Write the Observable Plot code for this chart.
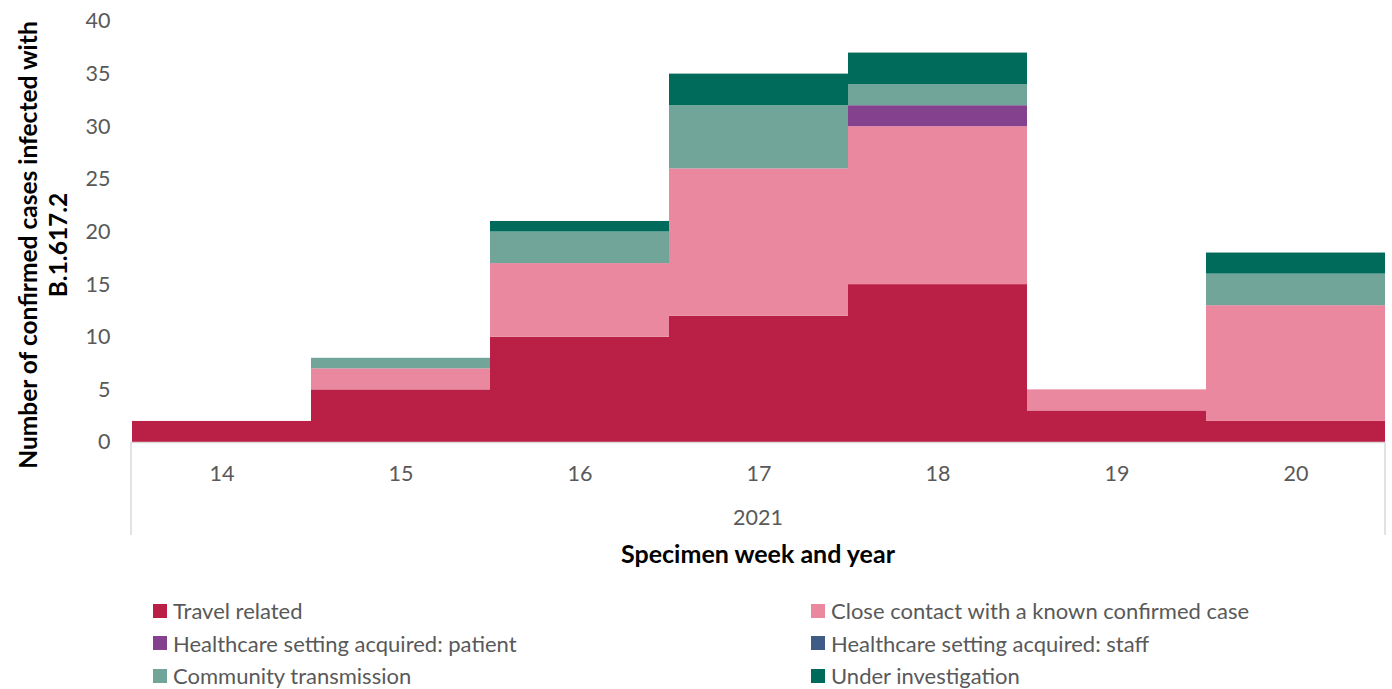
<!DOCTYPE html>
<html>
<head>
<meta charset="utf-8">
<script src="https://cdn.jsdelivr.net/npm/d3@7"></script>
<script src="https://cdn.jsdelivr.net/npm/@observablehq/plot@0.6"></script>
<style>
  html, body { margin: 0; padding: 0; background: #fff; }
  body { width: 1392px; height: 689px; overflow: hidden; font-family: Lato, "Open Sans", sans-serif; }
  #legend { position: relative; height: 109px; }
  .item { position: absolute; display: flex; align-items: center; font-size: 22px; color: #595959; white-space: nowrap; }
  .sw { width: 14px; height: 14px; margin-right: 6px; }
</style>
</head>
<body>
<div id="chart"></div>
<div id="legend"></div>
<script>
const weeks = ["14", "15", "16", "17", "18", "19", "20"];
const year = "2021";
const categories = [
  "Travel related",
  "Close contact with a known confirmed case",
  "Healthcare setting acquired: patient",
  "Healthcare setting acquired: staff",
  "Community transmission",
  "Under investigation"
];
const colors = ["#BA1F45", "#EA889F", "#84428E", "#3E5C85", "#71A59A", "#006B5A"];
const travel    = [2, 5, 10, 12, 15, 3, 2];
const close     = [0, 2, 7, 14, 15, 2, 11];
const patient   = [0, 0, 0, 0, 2, 0, 0];
const staff     = [0, 0, 0, 0, 0, 0, 0];
const community = [0, 1, 3, 6, 2, 0, 3];
const under     = [0, 0, 1, 3, 3, 0, 2];
const yTicks = [0, 5, 10, 15, 20, 25, 30, 35, 40];

const series = [travel, close, patient, staff, community, under];
const rows = [];
weeks.forEach((w, i) => {
  categories.forEach((c, j) => rows.push({week: w, category: c, value: series[j][i]}));
});

const W = 1392, H = 580;
const plot = Plot.plot({
  width: W,
  height: H,
  marginLeft: 131,
  marginRight: 7,
  marginTop: 21,
  marginBottom: 138,
  style: {fontFamily: "Lato, 'Open Sans', sans-serif", fontSize: "21px", color: "#595959", background: "#fff"},
  x: {domain: weeks, padding: 0, label: null, axis: null},
  y: {domain: [0, 40], label: null, axis: null},
  color: {domain: categories, range: colors},
  marks: [
    Plot.barY(rows, {x: "week", y: "value", fill: "category", order: categories, inset: 0}),
    Plot.ruleY([0], {stroke: "#d9d9d9", strokeWidth: 1.5}),
    Plot.axisY({ticks: yTicks, tickSize: 0, tickPadding: 21, label: null, fontSize: 21.5, fill: "#595959"}),
    Plot.axisX({tickSize: 0, tickPadding: 23, label: null, fontSize: 21.5, fill: "#595959"})
  ]
});
document.getElementById("chart").appendChild(plot);

const svg = d3.select(plot);
const xr = plot.scale("x").range;
const y0 = plot.scale("y").apply(0);
[xr[0], xr[1]].forEach(x => {
  svg.append("line").attr("x1", x).attr("x2", x).attr("y1", y0).attr("y2", 535)
    .attr("stroke", "#d9d9d9").attr("stroke-width", 1.5);
});
const cx = (xr[0] + xr[1]) / 2;
svg.append("text").attr("x", cx).attr("y", 520).attr("text-anchor", "middle")
  .attr("dominant-baseline", "middle").attr("fill", "#595959").attr("font-size", 21.5).text(year);
svg.append("text").attr("x", cx).attr("y", 557).attr("text-anchor", "middle")
  .attr("dominant-baseline", "middle").attr("fill", "#000").attr("font-size", 25)
  .attr("font-weight", "bold").text("Specimen week and year");
const yt = svg.append("text").attr("transform", "translate(0,245) rotate(-90)")
  .attr("text-anchor", "middle").attr("fill", "#000").attr("font-size", 24.5).attr("font-weight", "bold");
yt.append("tspan").attr("x", 0).attr("y", 37).text("Number of confirmed cases infected with");
yt.append("tspan").attr("x", 0).attr("y", 67).text("B.1.617.2");

const legend = document.getElementById("legend");
categories.forEach((c, j) => {
  const col = j % 2, row = Math.floor(j / 2);
  const d = document.createElement("div");
  d.className = "item";
  d.style.left = (col === 0 ? 153 : 811) + "px";
  d.style.top = (31 + row * 32.5 - 14) + "px";
  const s = document.createElement("span");
  s.className = "sw";
  s.style.background = colors[j];
  const t = document.createElement("span");
  t.textContent = c;
  d.appendChild(s); d.appendChild(t);
  legend.appendChild(d);
});
</script>
</body>
</html>
